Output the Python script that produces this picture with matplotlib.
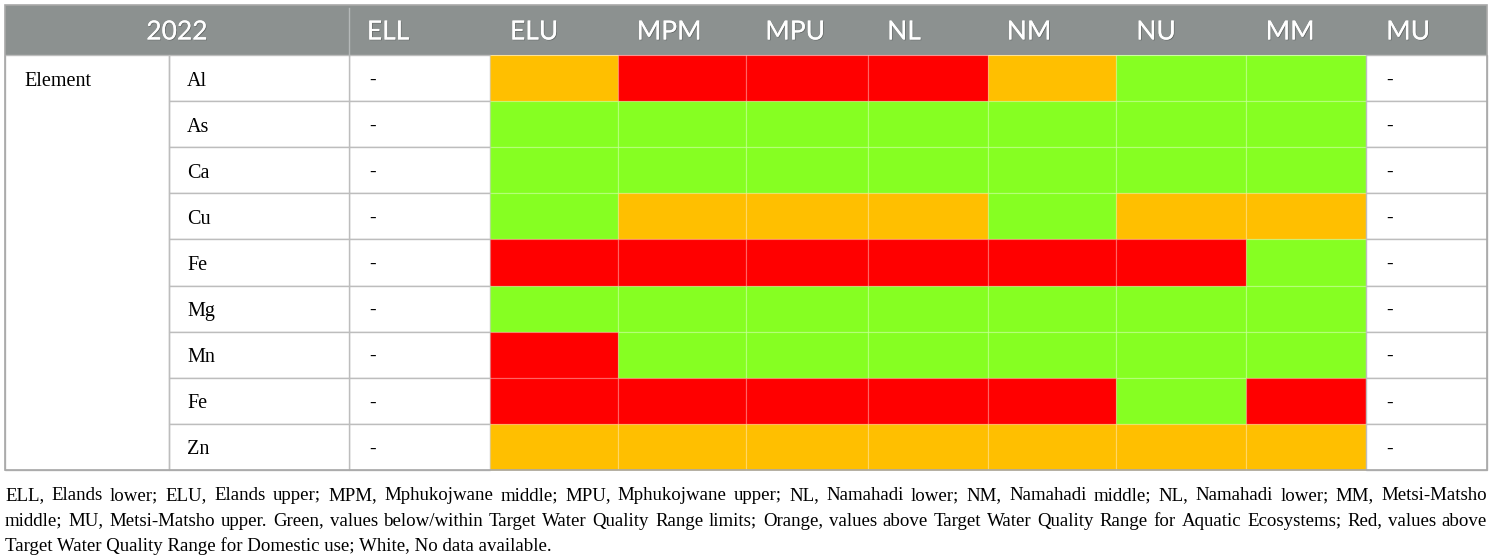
import matplotlib.pyplot as plt
from matplotlib.patches import Rectangle
import matplotlib.patheffects as pe

# data
year = "2022"
sites = ["ELL", "ELU", "MPM", "MPU", "NL", "NM", "NU", "MM", "MU"]
elements = ["Al", "As", "Ca", "Cu", "Fe", "Mg", "Mn", "Fe", "Zn"]
# G = green, O = orange, R = red, - = no data
status = [
    ["-", "O", "R", "R", "R", "O", "G", "G", "-"],
    ["-", "G", "G", "G", "G", "G", "G", "G", "-"],
    ["-", "G", "G", "G", "G", "G", "G", "G", "-"],
    ["-", "G", "O", "O", "O", "G", "O", "O", "-"],
    ["-", "R", "R", "R", "R", "R", "R", "G", "-"],
    ["-", "G", "G", "G", "G", "G", "G", "G", "-"],
    ["-", "R", "G", "G", "G", "G", "G", "G", "-"],
    ["-", "R", "R", "R", "R", "R", "G", "R", "-"],
    ["-", "O", "O", "O", "O", "O", "O", "O", "-"],
]
caption_lines = [
    "ELL, Elands lower; ELU, Elands upper; MPM, Mphukojwane middle; MPU, Mphukojwane upper; "
    "NL, Namahadi lower; NM, Namahadi middle; NL, Namahadi lower; MM, Metsi-Matsho",
    "middle; MU, Metsi-Matsho upper. Green, values below/within Target Water Quality Range limits; "
    "Orange, values above Target Water Quality Range for Aquatic Ecosystems; Red, values above",
    "Target Water Quality Range for Domestic use; White, No data available.",
]

colors = {"G": "#86ff22", "O": "#ffbf00", "R": "#ff0000", "-": "white"}
header_gray = "#8c9190"
line_gray = "#bdbdbd"

fig = plt.figure(figsize=(14.92, 5.6), dpi=100)
ax = fig.add_axes([0, 0, 1, 1])
ax.set_xlim(0, 1492)
ax.set_ylim(560, 0)
ax.axis("off")

# layout (pixels)
col_x = [5, 169, 349, 490, 618, 746, 868, 988, 1116, 1246, 1366, 1487]
head_top, head_bot = 5, 55
row_h = (470 - head_bot) / len(elements)
head_x = [388, 534, 669, 795, 904, 1029, 1156, 1290, 1408]

serif = "Liberation Serif"
sans = "Lato"

# header
ax.add_patch(Rectangle((col_x[0], head_top), col_x[-1] - col_x[0], head_bot - head_top,
                       facecolor=header_gray, edgecolor="none"))
ax.plot([col_x[2], col_x[2]], [head_top + 3, head_bot], color="#b4b8b8", lw=1)
shadow = [pe.withSimplePatchShadow(offset=(0.6, -0.6), alpha=0.25, shadow_rgbFace="black"), pe.Normal()]
ax.text((col_x[0] + col_x[2]) / 2, 32, year, color="white", fontsize=19, family=sans,
        ha="center", va="center", path_effects=shadow)
for hx, s in zip(head_x, sites):
    ax.text(hx, 32, s, color="white", fontsize=19, family=sans,
            ha="center", va="center", path_effects=shadow)

# body cells
for i, el in enumerate(elements):
    y0 = head_bot + i * row_h
    for j, st in enumerate(status[i]):
        x0, x1 = col_x[j + 2], col_x[j + 3]
        if st == "-":
            ax.add_patch(Rectangle((x0, y0), x1 - x0, row_h, facecolor="white",
                                   edgecolor=line_gray, lw=1))
            ax.text(x0 + 20, y0 + row_h / 2 + 2, "-", fontsize=14, family=serif,
                    ha="left", va="center")
        else:
            ax.add_patch(Rectangle((x0, y0), x1 - x0, row_h, facecolor=colors[st],
                                   edgecolor=(1, 1, 1, 0.15), lw=1))
    ax.add_patch(Rectangle((col_x[1], y0), col_x[2] - col_x[1], row_h, facecolor="white",
                           edgecolor=line_gray, lw=1))
    ax.text(col_x[1] + 18, y0 + row_h / 2 + 3, el, fontsize=14.5, family=serif,
            ha="left", va="center")

# merged "Element" cell and outer border
ax.add_patch(Rectangle((col_x[0], head_bot), col_x[1] - col_x[0], 470 - head_bot,
                       facecolor="none", edgecolor=line_gray, lw=1))
ax.text(24, head_bot + row_h / 2 + 3, "Element", fontsize=14.5, family=serif,
        ha="left", va="center")
ax.add_patch(Rectangle((col_x[0], head_top), col_x[-1] - col_x[0], 470 - head_top,
                       facecolor="none", edgecolor="#a8a8a8", lw=1.2))

# caption, justified
fig.canvas.draw()
renderer = fig.canvas.get_renderer()
cap_size = 13.6
left, right = col_x[0], col_x[-1]
for k, line in enumerate(caption_lines):
    y = 496 + k * 25
    words = line.split(" ")
    if k == len(caption_lines) - 1:
        ax.text(left, y, line, fontsize=cap_size, family=serif, ha="left", va="center")
        continue
    arts = [ax.text(0, y, w, fontsize=cap_size, family=serif, ha="left", va="center") for w in words]
    widths = [a.get_window_extent(renderer).width for a in arts]
    gap = (right - left - sum(widths)) / (len(words) - 1)
    x = left
    for a, w in zip(arts, widths):
        a.set_x(x)
        x += w + gap

fig.savefig("out.png", dpi=100)
